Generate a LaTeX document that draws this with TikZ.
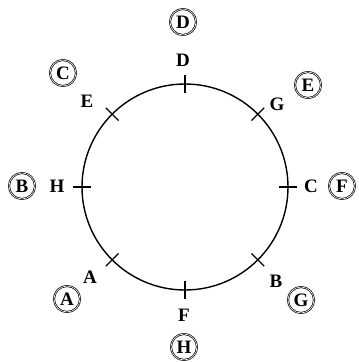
\documentclass[tikz,border=0pt]{standalone}
\usepackage{fontspec}
\setmainfont{Liberation Serif}
\usetikzlibrary{calc}
\tikzset{
  lbl/.style={inner sep=0pt, font=\fontsize{19}{19}\selectfont\bfseries},
  clbl/.style={circle, draw, line width=0.7pt, double, double distance=0.6pt, minimum size=26pt, inner sep=0pt, font=\fontsize{19}{19}\selectfont\bfseries},
  tickln/.style={line width=1.2pt},
}
\begin{document}
\begin{tikzpicture}[x=1pt,y=-1pt]
\useasboundingbox (0,0) rectangle (359,362);
\coordinate (c) at (185,187);
\draw[line width=1.4pt] (c) circle[radius=103];
\foreach \a in {0,45,...,315}{
  \coordinate (ti\a) at ($(c)+(\a:-94)$);
  \coordinate (to\a) at ($(c)+(\a:-112)$);
  \draw[tickln] (ti\a) -- (to\a);
}
% inner letters
\node[lbl] (lD) at (183,60) {D};
\node[lbl] (lG) at (277,104) {G};
\node[lbl] (lC) at (311,186) {C};
\node[lbl] (lB) at (276,281) {B};
\node[lbl] (lF) at (184,315) {F};
\node[lbl] (lA) at (90,277) {A};
\node[lbl] (lH) at (57,186) {H};
\node[lbl] (lE) at (87,101) {E};
% circled letters
\node[clbl] (cD) at (183,22) {D};
\node[clbl] (cE) at (308,85) {E};
\node[clbl] (cF) at (342,186) {F};
\node[clbl] (cG) at (301,300) {G};
\node[clbl] (cH) at (184,347) {H};
\node[clbl] (cA) at (67,299) {A};
\node[clbl] (cB) at (22,186) {B};
\node[clbl] (cC) at (63,73) {C};
\end{tikzpicture}
\end{document}
